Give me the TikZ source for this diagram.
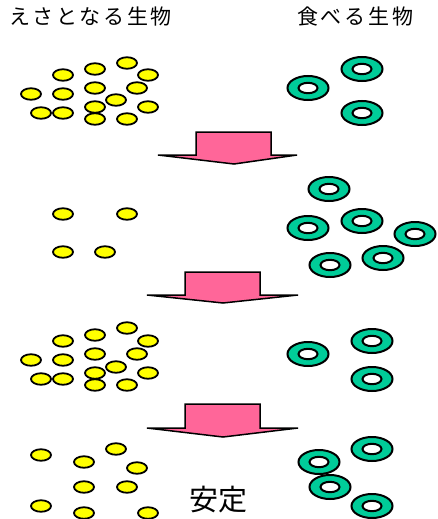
\documentclass[tikz,border=0pt]{standalone}
\usepackage{fontspec}
\usetikzlibrary{shapes.geometric}
\newfontfamily\jp{Noto Sans CJK JP}
\definecolor{preyfill}{RGB}{255,255,0}
\definecolor{predfill}{RGB}{0,204,153}
\definecolor{arrowfill}{RGB}{255,102,153}
\tikzset{
  prey/.style={ellipse, draw=black, line width=1.8pt, fill=preyfill,
    minimum width=20pt, minimum height=11.5pt, inner sep=0pt},
  predator/.style={ellipse, draw=black, line width=2pt, fill=predfill,
    minimum width=41pt, minimum height=24pt, inner sep=0pt,
    path picture={\draw[line width=2pt, fill=white]
      (path picture bounding box.center) ellipse (9.5pt and 5.2pt);}},
  bigarrow/.style={draw=black, line width=1.5pt, fill=arrowfill, line join=miter},
  label/.style={inner sep=0pt, anchor=base west,
    font=\jp\fontsize{21}{25}\selectfont\addfontfeatures{LetterSpace=13}},
  result/.style={inner sep=0pt, anchor=base west,
    font=\jp\fontsize{29}{34}\selectfont}
}
\begin{document}
\begin{tikzpicture}[x=1pt, y=-1pt]
\useasboundingbox (0,0) rectangle (438,519);

% column headings
\node[label] (hprey) at (9,25) {えさとなる生物};
\node[label] (hpred) at (297,25) {食べる生物};

% stage 1: many prey, few predators
\foreach \x/\y [count=\i] in {127/63, 95/69, 63/75, 148/75, 95/88, 137/88,
    31/94, 63/94, 116/100, 95/107, 148/107, 41/113, 63/113, 95/119, 127/119}
  \node[prey] (pa\i) at (\x,\y) {};
\foreach \x/\y [count=\i] in {362/69, 308/88, 362/113}
  \node[predator] (qa\i) at (\x,\y) {};

% arrow 1
\draw[bigarrow] (196,132) -- (271,132) -- (271,155) -- (297,155)
  -- (234,164) -- (158,155) -- (196,155) -- cycle;

% stage 2: few prey, many predators
\foreach \x/\y [count=\i] in {63/214, 127/214, 63/252, 105/252}
  \node[prey] (pb\i) at (\x,\y) {};
\foreach \x/\y [count=\i] in {329/189, 362/221, 308/228, 415/234, 383/258, 330/265}
  \node[predator] (qb\i) at (\x,\y) {};

% arrow 2
\draw[bigarrow] (185,272) -- (260,272) -- (260,295) -- (298,295)
  -- (223,303) -- (147,295) -- (185,295) -- cycle;

% stage 3: prey recover, predators decline
\foreach \x/\y [count=\i] in {127/328, 95/335, 63/341, 148/341, 95/354, 137/354,
    31/360, 63/360, 116/367, 95/373, 148/373, 41/379, 63/379, 95/385, 127/385}
  \node[prey] (pc\i) at (\x,\y) {};
\foreach \x/\y [count=\i] in {372/341, 308/354, 372/379}
  \node[predator] (qc\i) at (\x,\y) {};

% arrow 3
\draw[bigarrow] (185,404) -- (260,404) -- (260,428) -- (298,428)
  -- (223,437) -- (147,428) -- (185,428) -- cycle;

% stage 4: balance
\foreach \x/\y [count=\i] in {116/449, 41/455, 84/462, 137/468, 84/487, 127/487,
    41/506, 84/513, 148/513}
  \node[prey] (pd\i) at (\x,\y) {};
\foreach \x/\y [count=\i] in {372/449, 319/462, 330/487, 372/506}
  \node[predator] (qd\i) at (\x,\y) {};

\node[result] (stable) at (189,510) {安定};
\end{tikzpicture}
\end{document}
